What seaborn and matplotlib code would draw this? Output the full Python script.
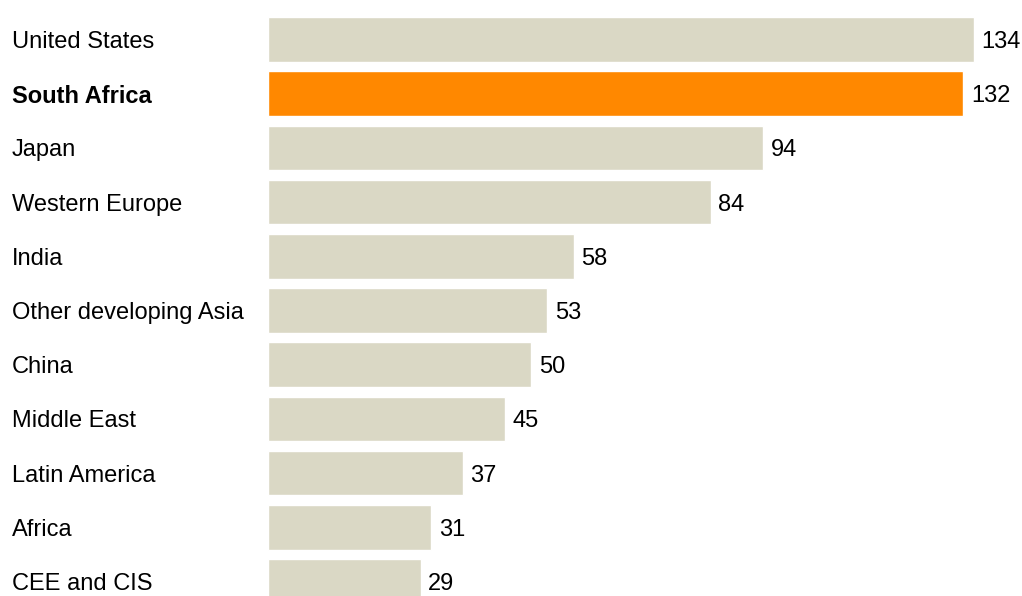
import matplotlib
matplotlib.use("Agg")
import matplotlib.pyplot as plt
import seaborn as sns
import pandas as pd

categories = ["United States", "South Africa", "Japan", "Western Europe", "India",
              "Other developing Asia", "China", "Middle East", "Latin America",
              "Africa", "CEE and CIS"]
values = [134, 132, 94, 84, 58, 53, 50, 45, 37, 31, 29]
highlight = "South Africa"

sns.set_theme(style="white")
plt.rcParams['font.family'] = ['Liberation Sans', 'DejaVu Sans']

df = pd.DataFrame({"region": categories, "value": values})
palette = {c: ("#FF8800" if c == highlight else "#DAD8C5") for c in categories}

W, H = 1022, 596
c0, step = 39.5, 54.2
fig = plt.figure(figsize=(W / 100, H / 100), dpi=100)
x0 = 268
ax = fig.add_axes([x0 / W, 0, 1 - x0 / W, 1])
sns.barplot(data=df, x="value", y="region", hue="region", palette=palette,
            order=categories, hue_order=categories, legend=False,
            width=0.82, saturation=1, ax=ax)

scale = (974 - x0) / 134.0
ax.set_xlim(0, (W - x0) / scale)
ax.set_ylim((H - c0) / step, -c0 / step)
ax.set_xlabel("")
ax.set_ylabel("")
ax.set_xticks([])
ax.set_yticks([])
for s in ax.spines.values():
    s.set_visible(False)

for i, (c, v) in enumerate(zip(categories, values)):
    ax.text(v + 7.5 / scale, i, str(v), va="center_baseline", ha="left", fontsize=17,
            color="#000000")
    fig.text(12 / W, 1 - (c0 + step * i) / H, c, va="center_baseline", ha="left",
             fontsize=17, color="#000000",
             fontweight="bold" if c == highlight else "normal")

fig.savefig("out.png", dpi=100)
